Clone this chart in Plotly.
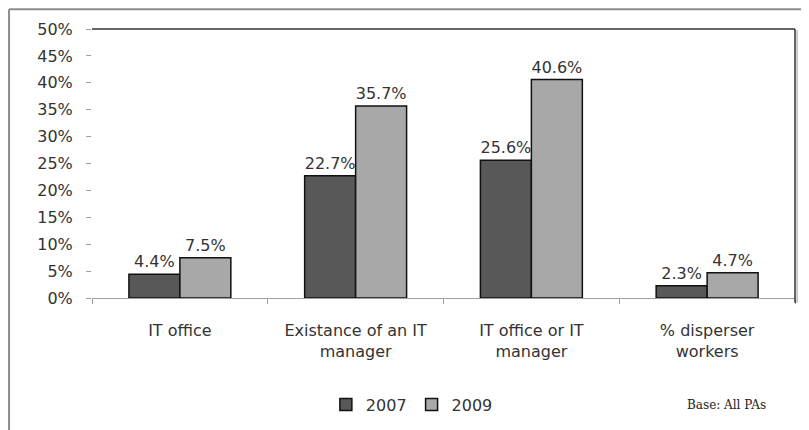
import plotly.graph_objects as go

categories = ["IT office", "Existance of an IT<br>manager", "IT office or IT<br>manager", "% disperser<br>workers"]
series_names = ["2007", "2009"]
values_2007 = [4.4, 22.7, 25.6, 2.3]
values_2009 = [7.5, 35.7, 40.6, 4.7]
y_ticks = [0, 5, 10, 15, 20, 25, 30, 35, 40, 45, 50]
y_tick_labels = [f"{v}%" for v in y_ticks]

colors = ["#585858", "#a8a8a8"]
font_main = "DejaVu Sans"
text_col = "#333333"

fig = go.Figure()
for name, vals, col in zip(series_names, [values_2007, values_2009], colors):
    fig.add_trace(go.Bar(
        x=categories, y=vals, name=name,
        marker=dict(color=col, line=dict(color="#111111", width=1.5)),
        text=[f"{v:.1f}%" for v in vals], textposition="outside",
        textfont=dict(family=font_main, size=16, color=text_col),
        cliponaxis=False,
    ))

# page body adds an 8px offset; margins compensate so the plot lands where the reference has it
fig.update_layout(
    width=809, height=430,
    margin=dict(l=84, r=22, t=17, b=140),
    paper_bgcolor="white", plot_bgcolor="white",
    barmode="group", bargap=0.42, bargroupgap=0,
    showlegend=True,
    legend=dict(orientation="h", x=0.455, xanchor="center", y=-0.396, yanchor="middle",
                font=dict(family=font_main, size=16, color=text_col),
                itemwidth=30, traceorder="normal"),
    xaxis=dict(showline=True, linecolor="#a0a0a0", linewidth=1,
               ticks="outside", tickson="boundaries", ticklen=5, tickcolor="#a0a0a0",
               ticklabelstandoff=18,
               tickfont=dict(family=font_main, size=16, color=text_col),
               showgrid=False),
    yaxis=dict(range=[0, 50], tickvals=y_ticks, ticktext=y_tick_labels,
               showline=False, showgrid=False, zeroline=False,
               ticks="outside", ticklen=5, tickcolor="#a0a0a0",
               ticklabelstandoff=10,
               tickfont=dict(family=font_main, size=16, color=text_col)),
    shapes=[
        # plot area top & right borders
        dict(type="line", xref="paper", yref="paper", x0=0, x1=1, y0=1, y1=1,
             line=dict(color="#333333", width=1.5)),
        dict(type="line", xref="paper", yref="paper", x0=1, x1=1, y0=-0.018, y1=1,
             line=dict(color="#333333", width=1.5)),
        dict(type="line", xref="paper", yref="paper", x0=1.003, x1=1.003, y0=-0.018, y1=0.995,
             line=dict(color="#bbbbbb", width=1.5)),
        # outer frame (left and top)
        dict(type="line", xref="paper", yref="paper", x0=-0.118, x1=-0.118, y0=-0.6, y1=1.073,
             line=dict(color="#8c8c8c", width=2)),
        dict(type="line", xref="paper", yref="paper", x0=-0.118, x1=1.05, y0=1.073, y1=1.073,
             line=dict(color="#8c8c8c", width=2)),
    ],
    annotations=[
        dict(text="Base: All PAs", xref="paper", yref="paper", x=0.844, y=-0.399,
             xanchor="left", yanchor="middle", showarrow=False,
             font=dict(family="DejaVu Serif", size=12, color="#222222")),
    ],
)

fig.write_html("out.html")
